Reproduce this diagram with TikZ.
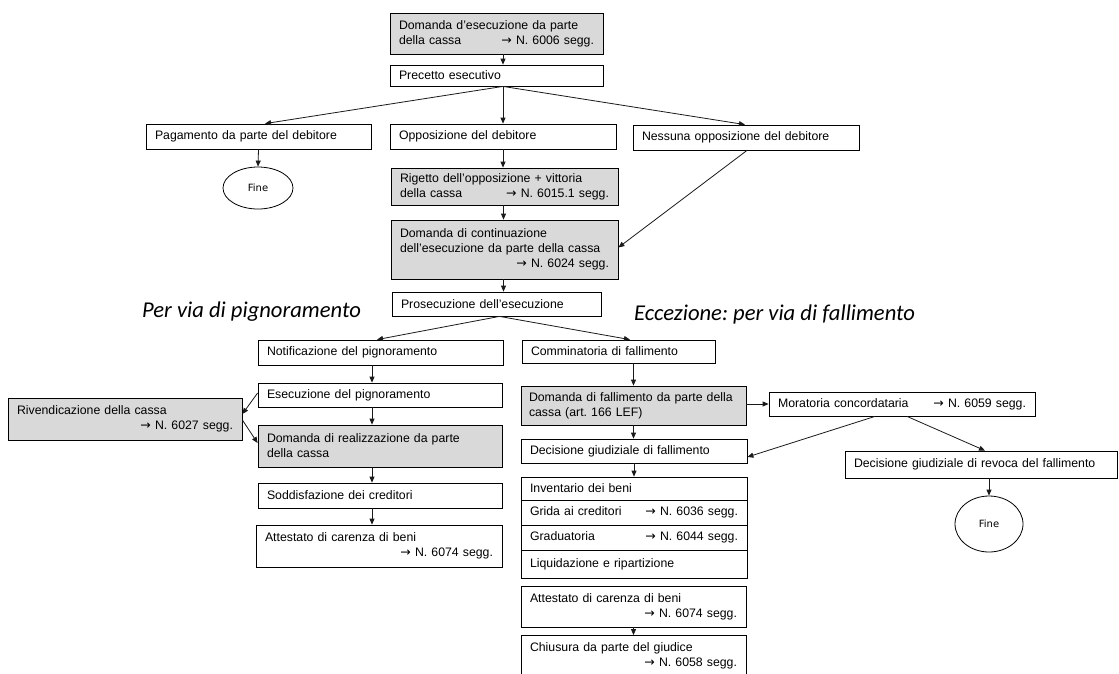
\documentclass[tikz,border=0pt]{standalone}
\usepackage{fontspec}
\setmainfont{Liberation Sans}
\newfontfamily\carl{Carlito}
\newfontfamily\dvs{DejaVu Sans}
\usetikzlibrary{arrows.meta,shapes.geometric}
\definecolor{boxgray}{HTML}{D9D9D9}
\definecolor{ln}{HTML}{1A1A1A}
\newcommand\arr{{\dvs\fontsize{12.5}{12}\selectfont →}}
\newcommand\rgt{\mbox{}\hfill}
\tikzset{
 bx/.style={draw=black, line width=0.8pt, inner sep=0pt, align=left, font=\frenchspacing\fontsize{12.3}{15}\selectfont},
 gbx/.style={bx, fill=boxgray},
 endnode/.style={draw=black, line width=0.8pt, ellipse, inner sep=0pt, font=\dvs\fontsize{10}{12}\selectfont},
 conn/.style={draw=ln, line width=0.8pt, -{Triangle[length=6pt,width=5pt]}},
 hd/.style={font=\carl\itshape\fontsize{22.6}{26}\selectfont, inner sep=0pt},
}
\begin{document}
\frenchspacing
\begin{tikzpicture}[x=1pt,y=-1pt]
\useasboundingbox (0,0) rectangle (1119,673);
\clip (0,0) rectangle (1119,673);
\fill[white] (0,0) rectangle (1119,673);

% top
\node[gbx, minimum width=213pt, minimum height=41pt, text width=195pt] (b1) at (496.5,33.5) {Domanda d’esecuzione da parte\\della cassa\hfill \arr{} N. 6006 segg.\hspace*{-6pt}};
\node[bx, minimum width=213pt, minimum height=21pt, text width=195pt] (b2) at (496.5,75.5) {Precetto esecutivo};
\node[bx, minimum width=225pt, minimum height=25pt, text width=207pt] (pag) at (258.5,136.5) {Pagamento da parte del debitore};
\node[bx, minimum width=226pt, minimum height=25pt, text width=208pt] (opp) at (503,136.5) {Opposizione del debitore};
\node[bx, minimum width=226pt, minimum height=25pt, text width=208pt] (ness) at (746,137.5) {Nessuna opposizione del debitore};
\node[endnode, minimum width=70pt, minimum height=42pt] (fine1) at (258,188) {Fine};
\node[gbx, minimum width=227pt, minimum height=37pt, text width=209pt] (rig) at (504.5,186.5) {Rigetto dell’opposizione + vittoria\\della cassa\hfill \arr{} N. 6015.1 segg.};
\node[gbx, minimum width=227pt, minimum height=59pt, text width=209pt] (cont) at (504.5,249.5) {Domanda di continuazione\\dell’esecuzione da parte della cassa\\\rgt \arr{} N. 6024 segg.};
\node[bx, minimum width=209pt, minimum height=24pt, text width=191pt] (pros) at (496.5,304) {Prosecuzione dell’esecuzione};

% headings
\node[hd, anchor=base west] (h1) at (142,317) {Per via di pignoramento};
\node[hd, anchor=base west] (h2) at (634,320) {Eccezione: per via di fallimento};

% left column
\node[bx, minimum width=245pt, minimum height=25pt, text width=227pt] (notif) at (380.5,352.5) {Notificazione del pignoramento};
\node[bx, minimum width=244pt, minimum height=24pt, text width=226pt] (esec) at (380,395) {Esecuzione del pignoramento};
\node[gbx, minimum width=234pt, minimum height=42pt, text width=216pt] (riv) at (125,419) {Rivendicazione della cassa\\\rgt \arr{} N. 6027 segg.\hspace*{14pt}};
\node[gbx, minimum width=244pt, minimum height=42pt, text width=226pt] (real) at (380,446) {Domanda di realizzazione da parte\\della cassa};
\node[bx, minimum width=244pt, minimum height=25pt, text width=226pt] (sodd) at (380,495.5) {Soddisfazione dei creditori};
\node[bx, minimum width=246pt, minimum height=42pt, text width=228pt] (att1) at (379,546) {Attestato di carenza di beni\\\rgt \arr{} N. 6074 segg.\hspace*{-4pt}};

% right column
\node[bx, minimum width=193pt, minimum height=23pt, text width=175pt] (comm) at (618.5,351.5) {Comminatoria di fallimento};
\node[gbx, minimum width=225pt, minimum height=39pt, text width=209pt] (dfal) at (633.5,405.5) {Domanda di fallimento da parte della\\cassa (art. 166 LEF)};
\node[bx, minimum width=266pt, minimum height=24pt, text width=248pt] (mor) at (902,404) {Moratoria concordataria\hfill \arr{} N. 6059 segg.\hspace*{-2pt}};
\node[bx, minimum width=226pt, minimum height=24pt, text width=208pt] (dec) at (634,451) {Decisione giudiziale di fallimento};
\node[bx, minimum width=272pt, minimum height=27pt, text width=254pt] (rev) at (981,464.5) {Decisione giudiziale di revoca del fallimento};
\node[endnode, minimum width=68pt, minimum height=56pt] (fine2) at (989,524) {Fine};
\node[bx, minimum width=226pt, minimum height=23pt, text width=208pt] (inv) at (634,488.5) {Inventario dei beni};
\node[bx, minimum width=226pt, minimum height=25pt, text width=208pt] (grida) at (634,512.5) {Grida ai creditori\hfill \arr{} N. 6036 segg.\hspace*{5pt}};
\node[bx, minimum width=226pt, minimum height=25pt, text width=208pt] (grad) at (634,537.5) {Graduatoria\hfill \arr{} N. 6044 segg.\hspace*{5pt}};
\node[bx, minimum width=226pt, minimum height=28pt, text width=208pt] (liq) at (634,564) {Liquidazione e ripartizione};
\node[bx, minimum width=225pt, minimum height=41pt, text width=207pt] (att2) at (633.5,606.5) {Attestato di carenza di beni\\\rgt \arr{} N. 6074 segg.\hspace*{9pt}};
\node[bx, minimum width=225pt, minimum height=41pt, text width=207pt] (chius) at (633.5,656) {Chiusura da parte del giudice\\\rgt \arr{} N. 6058 segg.\hspace*{-5pt}};

% connectors
\draw[conn] ([xshift=6.5pt]b1.south) -- ([xshift=6.5pt]b2.north);
\draw[conn] ([xshift=6.5pt]b2.south) -- ([xshift=6.5pt]pag.north);
\draw[conn] ([xshift=6.5pt]b2.south) -- (opp.north);
\draw[conn] ([xshift=6.5pt]b2.south) -- ([xshift=-1pt]ness.north);
\draw[conn] (pag.south) -- (fine1.north);
\draw[conn] (opp.south) -- (opp.south |- rig.north);
\draw[conn] ([xshift=-1pt]rig.south) -- ([xshift=-1pt]cont.north);
\draw[conn] ([xshift=1pt]ness.south) -- ([yshift=2pt]cont.east);
\draw[conn] ([xshift=-1pt]cont.south) -- ([xshift=-1pt]cont.south |- pros.north);
\draw[conn] ([xshift=3pt]pros.south) -- ([xshift=-3.5pt]notif.north);
\draw[conn] ([xshift=3pt]pros.south) -- ([xshift=11.5pt]comm.north);
\draw[conn] ([xshift=-8.5pt]notif.south) -- ([xshift=-8pt]esec.north);
\draw[conn] ([xshift=-8pt]esec.south) -- ([xshift=-8pt]real.north);
\draw[conn] ([xshift=-8pt]real.south) -- ([xshift=-8pt]sodd.north);
\draw[conn] ([xshift=-8pt]sodd.south) -- ([xshift=-7pt]att1.north);
\draw[conn] ([yshift=2pt]esec.west) -- ([yshift=5pt]riv.east);
\draw[conn] ([yshift=-1pt]riv.east) -- ([yshift=3pt]real.west);
\draw[conn] (comm.south -| dfal.north) -- (dfal.north);
\draw[conn] (dfal.east |- mor.west) -- (mor.west);
\draw[conn] (dfal.south) -- (dfal.south |- dec.north);
\draw[conn] ([xshift=-27pt]mor.south) -- ([yshift=-6pt]dec.east);
\draw[conn] ([xshift=5pt]mor.south) -- ([xshift=4pt]rev.north);
\draw[conn] (rev.south -| fine2.north) -- (fine2.north);
\draw[conn] (dec.south) -- (dec.south |- inv.north);
\draw[conn] (att2.south) -- (att2.south |- chius.north);
\end{tikzpicture}
\end{document}
